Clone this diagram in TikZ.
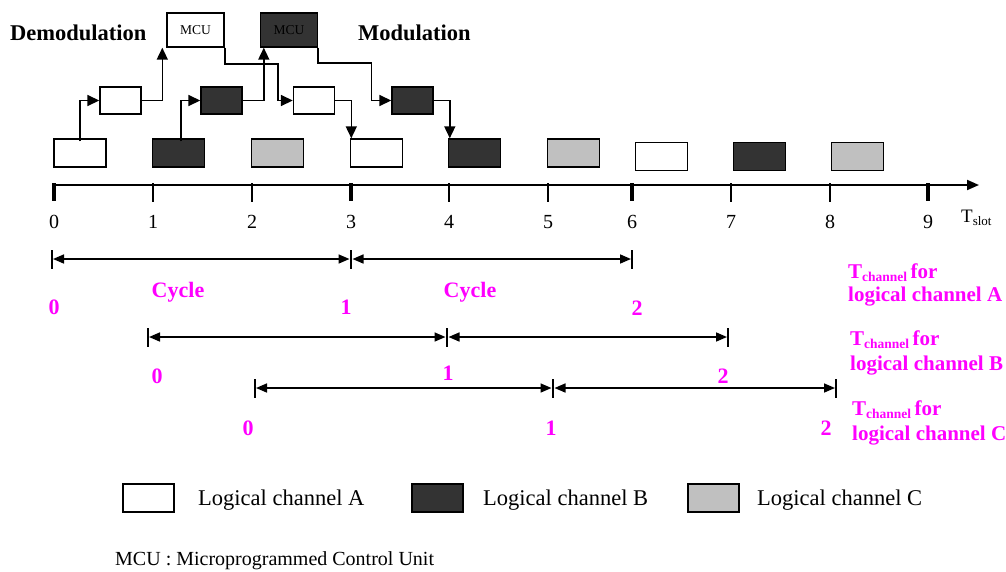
\documentclass[tikz,border=0pt]{standalone}
\usepackage{fontspec}
\setmainfont{Liberation Serif}
\usetikzlibrary{arrows.meta}
\definecolor{dk}{HTML}{333333}
\definecolor{lg}{HTML}{C0C0C0}
\definecolor{mag}{HTML}{FF00FF}
\newcommand\fszTitle{\fontsize{22.5}{26}\selectfont}
\newcommand\fszAxis{\fontsize{20}{24}\selectfont}
\newcommand\fszMCU{\fontsize{13.5}{16}\selectfont}
\newcommand\fszMag{\fontsize{22}{26}\selectfont}
\newcommand\fszSide{\fontsize{21}{25}\selectfont}
\newcommand\fszLeg{\fontsize{22.5}{26}\selectfont}
\newcommand\fszFoot{\fontsize{20}{24}\selectfont}
\begin{document}
\begin{tikzpicture}[x=1pt,y=-1pt,
  slotbox/.style={draw=black, line width=1.4pt, minimum width=52pt, minimum height=28pt, inner sep=0pt},
  wbox/.style={slotbox, fill=white},
  dbox/.style={slotbox, fill=dk},
  gbox/.style={slotbox, fill=lg},
  midbox/.style={minimum width=41pt, minimum height=27pt},
  mcubox/.style={minimum width=57pt, minimum height=34pt, font=\fszMCU},
  conn/.style={line width=1.6pt, -{Triangle[length=12pt,width=11pt]}},
  cyc/.style={line width=1.6pt, {Triangle[length=11pt,width=9pt]}-{Triangle[length=11pt,width=9pt]}},
  endbar/.style={line width=1.5pt},
  txt/.style={inner sep=0pt, anchor=base},
  magtxt/.style={txt, text=mag, font=\bfseries\fszMag},
  sidetxt/.style={inner sep=0pt, anchor=base west, text=mag, font=\bfseries\fszSide},
  majtick/.style={line width=3.5pt},
  mintick/.style={line width=1.3pt}
]
\useasboundingbox (0,0) rectangle (1006,571);

% titles
\node[inner sep=0pt, anchor=base west, font=\bfseries\fszTitle] (demod) at (10,40) {Demodulation};
\node[inner sep=0pt, anchor=base west, font=\bfseries\fszTitle] (modul) at (358,40) {Modulation};

% MCU boxes
\node[wbox, mcubox] (mcuA) at (195.5,30) {MCU};
\node[dbox, mcubox] (mcuB) at (289,30) {MCU};

% middle row
\node[wbox, midbox] (m1) at (120.5,100.5) {};
\node[dbox, midbox] (m2) at (221.5,100.5) {};
\node[wbox, midbox] (m3) at (314,100.5) {};
\node[dbox, midbox] (m4) at (412.5,100.5) {};

% bottom row (slots)
\node[wbox] (b0) at (80,153) {};
\node[dbox] (b1) at (178.5,153) {};
\node[gbox] (b2) at (277.5,153) {};
\node[wbox] (b3) at (376.5,153) {};
\node[dbox] (b4) at (474.5,153) {};
\node[gbox] (b5) at (573.5,153) {};
\node[wbox] (b6) at (661.5,156.5) {};
\node[dbox] (b7) at (759.5,156.5) {};
\node[gbox] (b8) at (857.5,156.5) {};

% connectors
\draw[conn] ([yshift=-3pt]b0.north) |- (m1.west);
\draw[conn] (m1.east) -| ([xshift=-4pt]mcuA.south west);
\draw[conn] ([xshift=2.5pt,yshift=-3pt]b1.north) |- (m2.west);
\draw[conn] (m2.east) -| ([xshift=4pt]mcuB.south west);
\draw[conn] (mcuA.south east) -- ++(0,16) -| ([xshift=-15pt]m3.west) -- (m3.west);
\draw[conn] (mcuB.south east) -- ++(0,15) -| ([xshift=-20pt]m4.west) -- (m4.west);
\draw[conn] (m3.east) -| ([xshift=1.5pt]b3.north west);
\draw[conn] (m4.east) -| ([xshift=2pt]b4.north west);

% time axis
\coordinate (ax0) at (54,185);
\coordinate (axE) at (979,185);
\draw[line width=2pt, -{Triangle[length=12pt,width=10pt]}] (ax0) -- (axE);
\foreach \x/\n in {54/0,351/3,632/6,928/9}{
  \draw[majtick] (\x,183) -- (\x,201);
}
\foreach \x/\n in {153/1,252/2,449/4,548/5,731/7,830/8}{
  \draw[mintick] (\x,183) -- (\x,202);
}
\foreach \x/\n in {54/0,153/1,252/2,351/3,449/4,548/5,632/6,731/7,830/8,928/9}{
  \node[txt, font=\fszAxis] (lab\n) at (\x,228.5) {\n};
}
\node[inner sep=0pt, anchor=base west, font=\fontsize{19}{22}\selectfont] (tslot) at (961,222) {T\raisebox{-3pt}{\fontsize{13}{13}\selectfont slot}};

% cycle rows
\foreach \r/\y/\a/\b/\c in {A/259/52/351/632, B/337/148/447/728, C/388/255/553/836}{
  \coordinate (\r0) at (\a,\y);
  \coordinate (\r1) at (\b,\y);
  \coordinate (\r2) at (\c,\y);
  \foreach \k in {0,1,2}{
    \draw[endbar] ([yshift=9pt]\r\k) -- ([yshift=-10pt]\r\k);
  }
  \draw[cyc] ([xshift=1pt]\r0) -- ([xshift=-1.5pt]\r1);
  \draw[cyc] ([xshift=1.5pt]\r1) -- ([xshift=-1pt]\r2);
}

\node[magtxt] (cyc1) at (178,297) {Cycle};
\node[magtxt] (cyc2) at (470,297) {Cycle};

\node[magtxt] (nA0) at (54,314) {0};
\node[magtxt] (nA1) at (346,314) {1};
\node[magtxt] (nA2) at (637,315) {2};
\node[magtxt] (nB0) at (157,383) {0};
\node[magtxt] (nB1) at (448,380) {1};
\node[magtxt] (nB2) at (723,383) {2};
\node[magtxt] (nC0) at (248,435) {0};
\node[magtxt] (nC1) at (551,435) {1};
\node[magtxt] (nC2) at (826,435) {2};

\node[sidetxt] (sA1) at (848,278) {T\raisebox{-3pt}{\fontsize{13.5}{14}\selectfont channel}\,for};
\node[sidetxt] (sA2) at (848,301) {logical channel A};
\node[sidetxt] (sB1) at (850,345.5) {T\raisebox{-3pt}{\fontsize{13.5}{14}\selectfont channel}\,for};
\node[sidetxt] (sB2) at (850,370.5) {logical channel B};
\node[sidetxt] (sC1) at (852,415.5) {T\raisebox{-3pt}{\fontsize{13.5}{14}\selectfont channel}\,for};
\node[sidetxt] (sC2) at (852,440) {logical channel C};

% legend
\node[wbox, minimum width=51pt] (legA) at (148.5,498) {};
\node[inner sep=0pt, anchor=base west, font=\fszLeg] (legAt) at (198,505) {Logical channel A};
\node[dbox, minimum width=51pt] (legB) at (437.5,498) {};
\node[inner sep=0pt, anchor=base west, font=\fszLeg] (legBt) at (483,505) {Logical channel B};
\node[gbox, minimum width=51pt] (legC) at (713.5,498) {};
\node[inner sep=0pt, anchor=base west, font=\fszLeg] (legCt) at (757,505) {Logical channel C};

\node[inner sep=0pt, anchor=base west, font=\fszFoot] (foot) at (115,565) {MCU : Microprogrammed Control Unit};
\end{tikzpicture}
\end{document}
